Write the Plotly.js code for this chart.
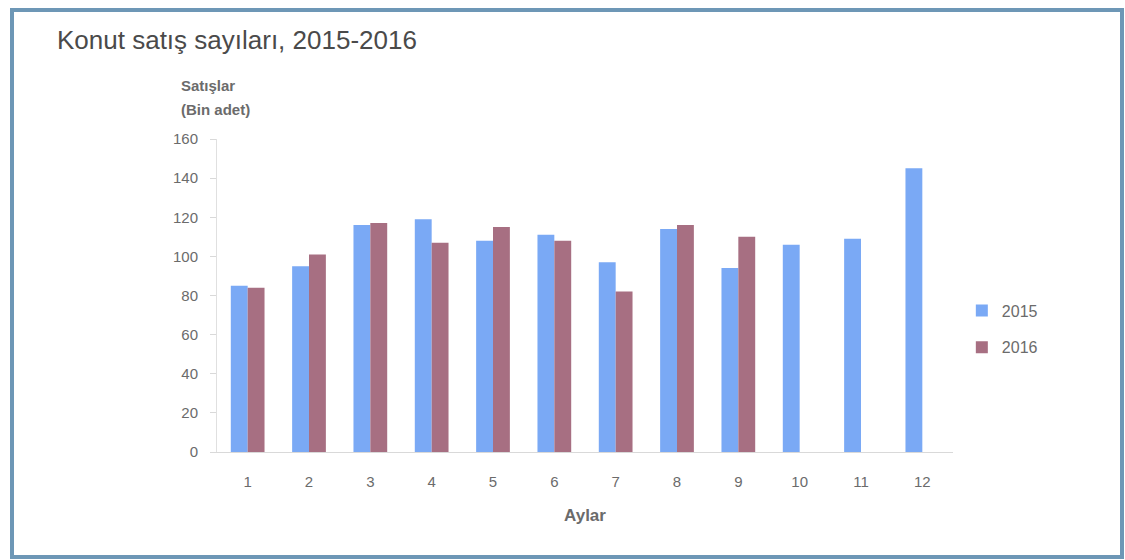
<!DOCTYPE html>
<html>
<head>
<meta charset="utf-8">
<script src="https://cdn.plot.ly/plotly-3.0.1.min.js"></script>
<style>
  html, body { margin: 0; padding: 0; background: #fff; }
  #wrap { position: relative; width: 1125px; height: 560px; overflow: hidden; }
  #chart { position: absolute; left: 0; top: 0; width: 1125px; height: 560px; }
  #frame { position: absolute; left: 10px; top: 8px; width: 1106px; height: 543px;
           border: 4px solid #6d97b6; pointer-events: none; }
</style>
</head>
<body>
<div id="wrap">
  <div id="chart"></div>
  <div id="frame"></div>
</div>
<script>
const months = ['1','2','3','4','5','6','7','8','9','10','11','12'];
const sales2015 = [85, 95, 116, 119, 108, 111, 97, 114, 94, 106, 109, 145];
const sales2016 = [84, 101, 117, 107, 115, 108, 82, 116, 110];
const seriesNames = ['2015', '2016'];
const yTicks = [0, 20, 40, 60, 80, 100, 120, 140, 160];

const gray = '#6b6b6b';
const traces = [
  { type: 'bar', name: seriesNames[0], x: months, y: sales2015,
    marker: { color: '#7aa9f5' }, legendgroup: 'a', hoverinfo: 'x+y' },
  { type: 'bar', name: seriesNames[1], x: months.slice(0, sales2016.length), y: sales2016,
    marker: { color: '#a76f82' }, legendgroup: 'b', hoverinfo: 'x+y' }
];

const layout = {
  width: 1125, height: 560,
  paper_bgcolor: '#ffffff', plot_bgcolor: '#ffffff',
  margin: { l: 217, r: 172, t: 139, b: 108 },
  barmode: 'group', bargap: 0.45, bargroupgap: 0,
  font: { family: 'Liberation Sans, Arial, sans-serif', color: gray, size: 14 },
  title: {
    text: 'Konut satış sayıları, 2015-2016',
    x: 57 / 1125, xanchor: 'left', xref: 'container',
    y: 1 - 40 / 560, yanchor: 'middle', yref: 'container',
    font: { size: 26, color: '#4a4a4a', family: 'Liberation Sans, Arial, sans-serif' }
  },
  xaxis: {
    type: 'category', categoryorder: 'array', categoryarray: months,
    showgrid: false, zeroline: false,
    showline: true, linecolor: '#d9d9d9', linewidth: 1,
    ticks: '', ticklabelstandoff: 16,
    tickfont: { size: 15, color: gray },
    title: { text: '<b>Aylar</b>', font: { size: 17, color: gray }, standoff: 20 }
  },
  yaxis: {
    range: [0, 160], tickvals: yTicks, ticktext: yTicks.map(String),
    showgrid: false, zeroline: false,
    showline: true, linecolor: '#e0e0e0', linewidth: 1,
    ticks: 'outside', ticklen: 6, tickcolor: '#d9d9d9',
    ticklabelstandoff: 9,
    tickfont: { size: 15, color: gray }
  },
  legend: {
    x: 1.012, xanchor: 'left', y: 0.393, yanchor: 'middle',
    font: { size: 16, color: gray }, tracegroupgap: 13,
    bgcolor: 'rgba(0,0,0,0)', itemwidth: 30
  },
  annotations: [
    { text: '<b>Satışlar</b>', xref: 'paper', yref: 'paper',
      x: (179 - 217) / 736, y: 1 + (139 - 86) / 313, xanchor: 'left', yanchor: 'middle',
      showarrow: false, font: { size: 15, color: gray } },
    { text: '<b>(Bin adet)</b>', xref: 'paper', yref: 'paper',
      x: (179 - 217) / 736, y: 1 + (139 - 109) / 313, xanchor: 'left', yanchor: 'middle',
      showarrow: false, font: { size: 15, color: gray } }
  ],
  showlegend: true
};

Plotly.newPlot('chart', traces, layout, { displayModeBar: false, staticPlot: true });
</script>
</body>
</html>
